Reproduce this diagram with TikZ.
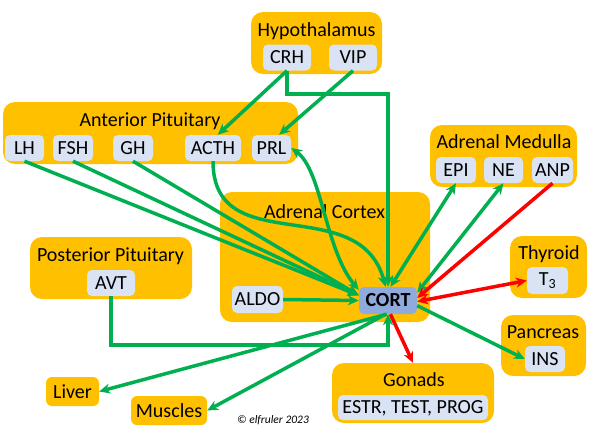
\documentclass[tikz,border=0pt]{standalone}
\usepackage{fontspec}
\setmainfont{Carlito}
\usetikzlibrary{arrows.meta,positioning}

\definecolor{glandcol}{HTML}{FFC000}
\definecolor{hormcol}{HTML}{DAE3F3}
\definecolor{cortcol}{HTML}{8FAADC}
\definecolor{upcol}{HTML}{00B050}
\definecolor{downcol}{HTML}{FF0000}

\begin{document}
\begin{tikzpicture}[
        x=1pt, y=-1pt,
        every node/.style = {font=\fontsize{20}{24}\selectfont, inner sep=0pt},
        gland/.style = {fill=glandcol, rounded corners=12pt},
        organ/.style = {fill=glandcol, rounded corners=6pt, minimum height=29pt},
        horm/.style = {fill=hormcol, rounded corners=5pt, minimum height=26pt},
        title/.style = {anchor=base},
        link/.style = {draw=upcol, line width=3.5pt},
        redlink/.style = {draw=downcol, line width=3.5pt},
        >={Stealth[length=11pt, width=10pt]}
    ]
    \useasboundingbox (0,0) rectangle (593,431);

    \node[gland, minimum width=131pt, minimum height=62pt] (hypo) at (316.5,43) {};
    \node[gland, minimum width=295pt, minimum height=62pt] (antpit) at (150.5,133) {};
    \node[gland, minimum width=147pt, minimum height=62pt] (medulla) at (503.5,156) {};
    \node[gland, minimum width=210pt, minimum height=130pt] (cortex) at (325,257) {};
    \node[gland, minimum width=162pt, minimum height=62pt] (postpit) at (111,268) {};
    \node[gland, minimum width=77pt, minimum height=62pt] (thyroid) at (548.5,267) {};
    \node[gland, minimum width=85pt, minimum height=61pt] (pancreas) at (543.5,345.5) {};
    \node[gland, minimum width=162pt, minimum height=60pt] (gonads) at (413,393) {};
    \node[organ, minimum width=53pt] (liver) at (72.5,391.5) {Liver};
    \node[organ, minimum width=76pt] (muscles) at (169,410.5) {Muscles};

    \node[title] (hypotitle) at (316.5,36) {Hypothalamus};
    \node[title] (antpittitle) at (150,126) {Anterior Pituitary};
    \node[title] (medullatitle) at (504,148) {Adrenal Medulla};
    \node[title] (cortextitle) at (324.5,218) {Adrenal Cortex};
    \node[title] (postpittitle) at (110.5,261) {Posterior Pituitary};
    \node[title] (thyroidtitle) at (549,259) {Thyroid};
    \node[title] (pancreastitle) at (543,338) {Pancreas};
    \node[title] (gonadstitle) at (414,386) {Gonads};

    \node[horm, minimum width=48pt] (crh) at (287,57.5) {CRH};
    \node[horm, minimum width=48pt] (vip) at (353,57.5) {VIP};
    \node[horm, minimum width=39pt] (lh) at (24.5,148) {LH};
    \node[horm, minimum width=40pt] (fsh) at (73,148) {FSH};
    \node[horm, minimum width=40pt] (gh) at (133,148) {GH};
    \node[horm, minimum width=56pt] (acth) at (213,148) {ACTH};
    \node[horm, minimum width=39pt] (prl) at (271.5,148) {PRL};
    \node[horm, minimum width=40pt] (epi) at (456,170) {EPI};
    \node[horm, minimum width=39pt] (ne) at (503.5,170) {NE};
    \node[horm, minimum width=41pt] (anp) at (552.5,170) {ANP};
    \node[horm, minimum width=51pt, minimum height=27pt] (aldo) at (257.5,299.5) {ALDO};
    \node[horm, fill=cortcol, minimum width=58pt, minimum height=27pt, font=\fontsize{20}{24}\selectfont\bfseries] (cort) at (388,300.5) {CORT};
    \node[horm, minimum width=48pt] (avt) at (111,283) {AVT};
    \node[horm, minimum width=41pt, minimum height=27pt] (t3) at (547.5,280.5) {T\textsubscript{3}};
    \node[horm, minimum width=40pt] (ins) at (545,359) {INS};
    \node[horm, minimum width=150pt, minimum height=25pt, text depth=0pt] (sex) at (413,407.5) {ESTR, TEST, PROG};

    \node[anchor=base, font=\fontsize{11.5}{14}\selectfont\itshape] (credit) at (273,423) {© elfruler 2023};

    \coordinate (crhbend) at (388,94);
    \coordinate (avtbend) at (388,345);

    \draw[link, ->] (crh.south) |- (crhbend) -- (cort.north);
    \draw[link, ->] (crh.south) -- (acth.70);
    \draw[link, ->] (vip.south) -- (prl.60);
    \draw[link, ->] (acth.south) to[out=-90, in=105, looseness=1.2] (cort.100);
    \draw[link, <->] (prl.east) .. controls (322,170) and (325,250) .. (cort.160);
    \draw[link, ->] (lh.south) -- (cort.170);
    \draw[link, ->] (fsh.south) -- (cort.170);
    \draw[link, ->] (gh.south) -- (cort.170);
    \draw[link, ->] (aldo.east) -- (cort.west);
    \draw[link, ->] (avt.south) |- (avtbend) -- (cort.south);
    \draw[link, ->] (cort.-95) -- (liver.east);
    \draw[link, ->] (cort.-100) -- (muscles.east);
    \draw[link, <->] (cort.80) -- (epi.south);
    \draw[link, <->] (cort.15) -- (ne.south);
    \draw[link, ->] (cort.-10) -- (ins.west);
    \draw[redlink, ->] (anp.south) -- (cort.5);
    \draw[redlink, <->] (cort.-2) -- (t3.west);
    \draw[redlink, ->] (cort.-80) -- (gonads.north);

\end{tikzpicture}
\end{document}
